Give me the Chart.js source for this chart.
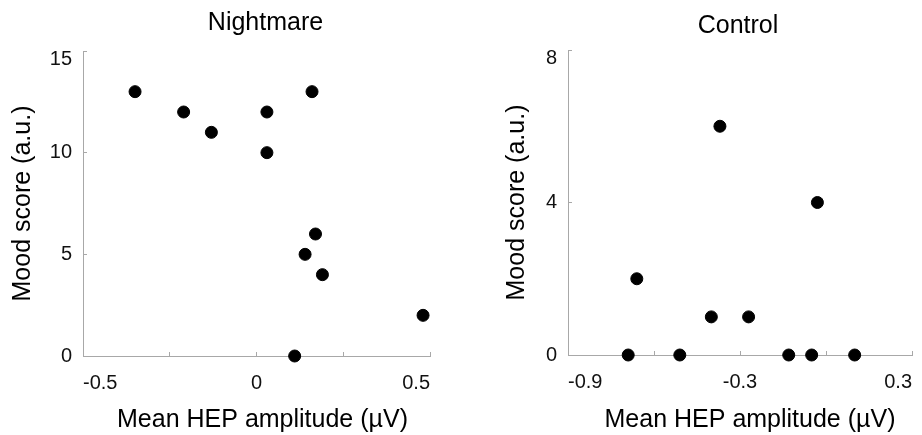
<!DOCTYPE html>
<html>
<head>
<meta charset="utf-8">
<script src="https://cdn.jsdelivr.net/npm/chart.js@4.4.1/dist/chart.umd.min.js"></script>
<style>
html, body { margin: 0; padding: 0; background: #fff; overflow: hidden; width: 922px; height: 435px; }
#nightmare { position: absolute; left: 0; top: 0; }
#control { position: absolute; left: 461px; top: 0; }
</style>
</head>
<body>
<canvas id="nightmare" width="461" height="435"></canvas>
<canvas id="control" width="470" height="435"></canvas>
<script>
// Dados
const nightmareX = [-0.35, -0.21, -0.13, 0.03, 0.03, 0.16, 0.17, 0.14, 0.19, 0.48, 0.11]
const nightmareY = [13, 12, 11, 12, 10, 13, 6, 5, 4, 2, 0]
const controlX = [-0.69, -0.66, -0.51, -0.40, -0.37, -0.27, -0.13, -0.05, -0.03, 0.10]
const controlY = [0, 2, 0, 1, 6, 1, 0, 0, 4, 0]

const nightmareXTicks = [-0.5, 0, 0.5]
const controlXTicks = [-0.9, -0.3, 0.3]
const nightmareYTicks = [0, 5, 10, 15]
const controlYTicks = [0, 4, 8]

const xTitulo = 'Mean HEP amplitude (µV)'
const yTitulo = 'Mood score (a.u.)'

const FONT = '"Liberation Sans", Arial, sans-serif'
const AXIS = '#a8a8a8'

// titulo do painel e titulo do eixo x desenhados sobre a area do grafico
const painelTitulo = {
    id: 'painelTitulo',
    afterDraw(chart, args, opts) {
        const { ctx, chartArea } = chart
        const meio = (chartArea.left + chartArea.right) / 2
        ctx.save()
        ctx.font = '25px ' + FONT
        ctx.fillStyle = '#000'
        ctx.textAlign = 'center'
        ctx.textBaseline = 'alphabetic'
        ctx.fillText(opts.text, meio + opts.dx, opts.baseline)
        ctx.fillText(xTitulo, meio + opts.xdx, 427)
        ctx.restore()
    }
}

const pontos = (xs, ys) => xs.map((x, i) => ({ x: x, y: ys[i] }))
const temLabel = (lista, v) => lista.some(t => Math.abs(t - v) < 1e-6)

function criarGrafico(id, cfg) {
    const yTopo = cfg.yTicks[cfg.yTicks.length - 1]
    return new Chart(document.getElementById(id), {
        type: 'scatter',
        data: {
            datasets: [{
                data: pontos(cfg.xs, cfg.ys),
                backgroundColor: '#000',
                borderColor: '#000',
                pointRadius: 6,
                pointHoverRadius: 6,
                clip: false
            }]
        },
        options: {
            responsive: false,
            animation: false,
            layout: { padding: { left: 0, right: cfg.padRight, top: cfg.top, bottom: 0 } },
            plugins: {
                legend: { display: false },
                tooltip: { enabled: false },
                painelTitulo: { text: cfg.titulo, dx: cfg.dx, xdx: cfg.xdx, baseline: cfg.baseline }
            },
            scales: {
                x: {
                    type: 'linear',
                    min: cfg.xMin, max: cfg.xMax,
                    afterFit: s => { s.height = cfg.xHeight },
                    border: { color: AXIS, width: 1 },
                    grid: { drawOnChartArea: false, drawTicks: true, tickLength: -4, color: AXIS },
                    ticks: {
                        stepSize: cfg.xStep,
                        padding: 19,
                        align: 'inner',
                        color: '#111',
                        font: { family: FONT, size: 20 },
                        maxRotation: 0,
                        autoSkip: false,
                        callback: v => temLabel(cfg.xTicks, v) ? String(Math.round(v * 10) / 10) : ''
                    },
                    title: { display: false }
                },
                y: {
                    type: 'linear',
                    min: 0, max: cfg.yMax,
                    afterFit: s => { s.width = cfg.yWidth },
                    border: { color: AXIS, width: 1 },
                    grid: { drawOnChartArea: false, drawTicks: true, tickLength: -4, color: AXIS },
                    ticks: {
                        stepSize: cfg.yStep,
                        padding: 15,
                        color: '#111',
                        // o rotulo do topo fica um pouco abaixo do fim do eixo
                        font: c => ({ family: FONT, size: 20, lineHeight: c.tick && c.tick.value === yTopo ? 0.8 : 1.2 }),
                        callback: v => {
                            if (!temLabel(cfg.yTicks, v)) return ''
                            return v === yTopo ? [' ', String(v)] : String(v)
                        }
                    },
                    title: {
                        display: true,
                        text: yTitulo,
                        color: '#000',
                        font: { family: FONT, size: 25 },
                        padding: { top: cfg.yTitlePad, bottom: 0 }
                    }
                }
            }
        },
        plugins: [painelTitulo]
    })
}

let graficoNightmare = criarGrafico('nightmare', {
    titulo: 'Nightmare', dx: 9, xdx: 6, baseline: 30,
    xs: nightmareX, ys: nightmareY,
    xMin: -0.5, xMax: 0.5, xStep: 0.25, xTicks: nightmareXTicks,
    yMax: 15, yStep: 5, yTicks: nightmareYTicks,
    top: 51, padRight: 31, xHeight: 79, yWidth: 83, yTitlePad: 8
})

let graficoControl = criarGrafico('control', {
    titulo: 'Control', dx: -2, xdx: 10, baseline: 33,
    xs: controlX, ys: controlY,
    xMin: -0.9, xMax: 0.3, xStep: 0.3, xTicks: controlXTicks,
    yMax: 8, yStep: 4, yTicks: controlYTicks,
    top: 50, padRight: 16, xHeight: 80, yWidth: 107, yTitlePad: 41
})
</script>
</body>
</html>
